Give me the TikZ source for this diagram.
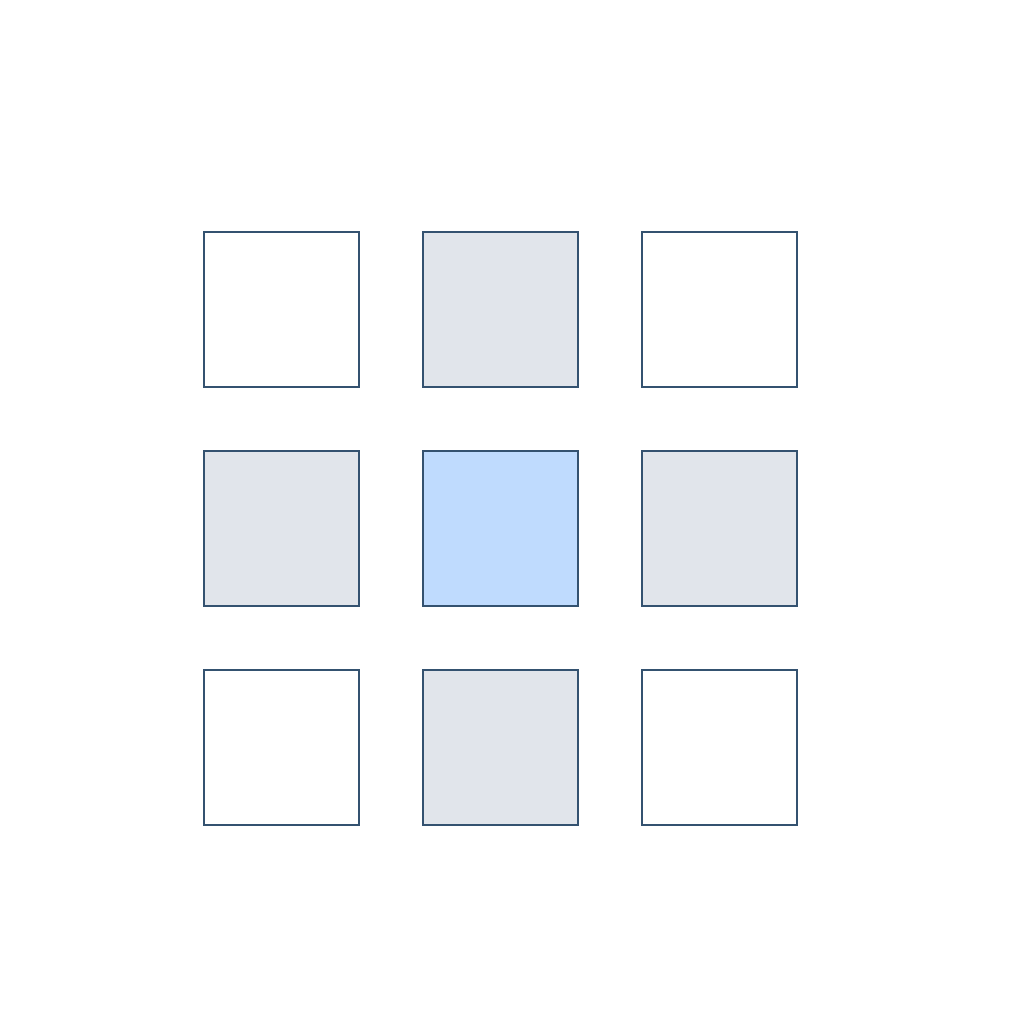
\documentclass[tikz,border=0pt]{standalone}
\definecolor{edge}{HTML}{345270}
\definecolor{grayfill}{HTML}{E1E5EB}
\definecolor{bluefill}{HTML}{BFDBFE}
\tikzset{cell/.style={draw=edge,line width=2.4pt,minimum size=155pt,inner sep=0pt,outer sep=0pt,anchor=north west}}
\begin{document}
\begin{tikzpicture}[x=1pt,y=-1pt]
\useasboundingbox (0,0) rectangle (1024,1024);
\node[cell,fill=white] (c11) at (204,232) {};
\node[cell,fill=grayfill] (c12) at (423,232) {};
\node[cell,fill=white] (c13) at (642,232) {};
\node[cell,fill=grayfill] (c21) at (204,451) {};
\node[cell,fill=bluefill] (c22) at (423,451) {};
\node[cell,fill=grayfill] (c23) at (642,451) {};
\node[cell,fill=white] (c31) at (204,670) {};
\node[cell,fill=grayfill] (c32) at (423,670) {};
\node[cell,fill=white] (c33) at (642,670) {};
\end{tikzpicture}
\end{document}
